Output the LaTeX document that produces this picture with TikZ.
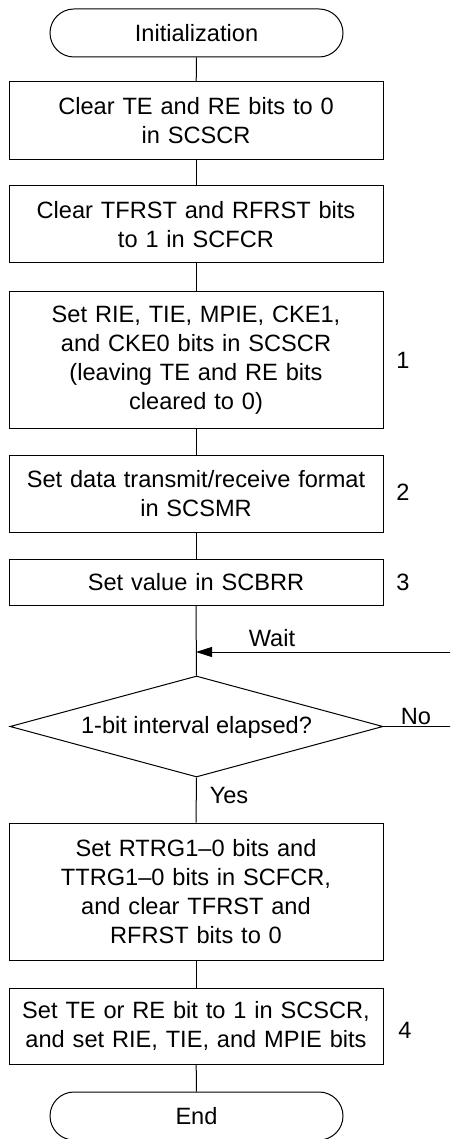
\documentclass[tikz,border=0pt]{standalone}
\usepackage{fontspec}
\setmainfont{Liberation Sans}
\usetikzlibrary{shapes.geometric,arrows.meta}
\begin{document}
\begin{tikzpicture}[x=1pt,y=-1pt,line width=1pt,
  every node/.style={font=\fontsize{23.6}{29}\selectfont},
  term/.style={draw,rectangle,rounded corners=24pt,minimum width=293pt,minimum height=48pt,inner sep=0pt},
  proc/.style={draw,rectangle,minimum width=374pt,inner sep=0pt,text width=370pt,align=center},
  lbl/.style={inner sep=0pt},
  conn/.style={draw},
  arr/.style={draw,-{Triangle[length=16pt,width=10pt]}}]
\useasboundingbox (0,0) rectangle (450,1139);
\clip (0,0) rectangle (450,1139);
\node[term] (init) at (196.5,33) {Initialization};
\node[proc,minimum height=78pt] (b1) at (196,121) {Clear TE and RE bits to 0\\in SCSCR};
\node[proc,minimum height=77pt] (b2) at (196,224.5) {Clear TFRST and RFRST bits\\to 1 in SCFCR};
\node[proc,minimum height=136pt] (b3) at (196,360) {Set RIE, TIE, MPIE, CKE1,\\and CKE0 bits in SCSCR\\(leaving TE and RE bits\\cleared to 0)};
\node[proc,minimum height=77pt] (b4) at (196,493.5) {Set data transmit/receive format\\in SCSMR};
\node[proc,minimum height=46pt] (b5) at (196,582) {Set value in SCBRR};
\node[draw,diamond,minimum width=373pt,minimum height=101pt,inner sep=0pt] (d) at (196.5,726.5) {};
\node[lbl] (dt) at (196.5,727) {1-bit interval elapsed?};
\node[proc,minimum height=137pt] (b6) at (196,891.5) {Set RTRG1--0 bits and\\TTRG1--0 bits in SCFCR,\\and clear TFRST and\\RFRST bits to 0};
\node[proc,minimum height=76pt] (b7) at (196,1026) {Set TE or RE bit to 1 in SCSCR,\\and set RIE, TIE, and MPIE bits};
\node[term] (end) at (196.5,1116) {End};
\node[lbl] (l1) at (403,360) {1};
\node[lbl] (l2) at (403,492) {2};
\node[lbl] (l3) at (403,582) {3};
\node[lbl] (l4) at (405,1030) {4};
\node[lbl] (wait) at (272,638) {Wait};
\node[lbl] (no) at (416,716) {No};
\node[lbl] (yes) at (229,795) {Yes};
\coordinate (wr) at (451,652);
\coordinate (nr) at (451,726.5);
\path[conn] (init) -- (b1);
\path[conn] (b1) -- (b2);
\path[conn] (b2) -- (b3);
\path[conn] (b3) -- (b4);
\path[conn] (b4) -- (b5);
\path[conn] (b5.south) -- (d.north);
\path[arr] (wr) -- (wr -| b5.south);
\path[conn] (d.east) -- (nr);
\path[conn] (d.south) -- (b6.north);
\path[conn] (b6) -- (b7);
\path[conn] (b7) -- (end);
\end{tikzpicture}
\end{document}
